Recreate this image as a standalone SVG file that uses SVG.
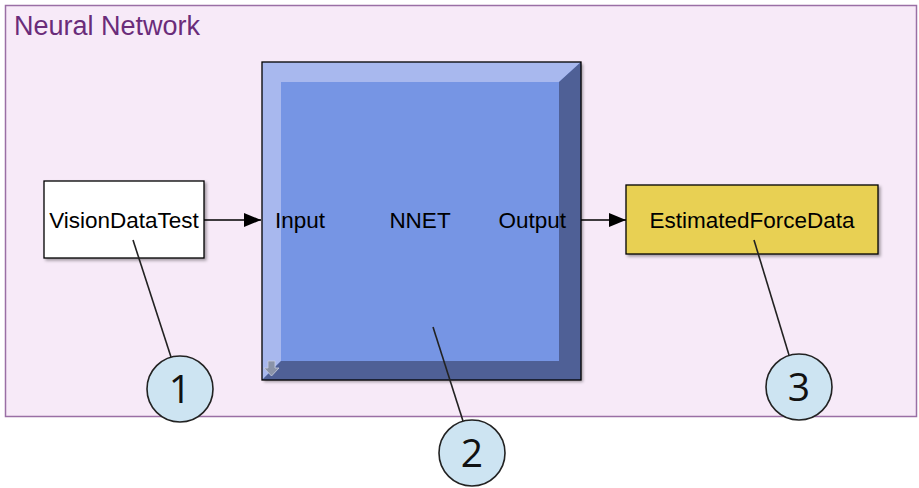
<svg xmlns="http://www.w3.org/2000/svg" width="919" height="488" viewBox="0 0 919 488">
<style>
.lbl{font-family:"Liberation Sans",Arial,sans-serif;font-size:22.5px;fill:#000}
.num{font-family:"Open Sans","Noto Sans",sans-serif;font-size:39px;fill:#111;text-anchor:middle}
.call{fill:#cde4f2;stroke:#222;stroke-width:1.6}
.lead{stroke:#222;stroke-width:1.6;fill:none}
.wire{stroke:#000;stroke-width:1.3;fill:none}
</style>
<defs>
<marker id="ah" viewBox="0 0 17 14" refX="17" refY="7" markerWidth="17" markerHeight="14" markerUnits="userSpaceOnUse" orient="auto">
<path d="M0,0 L17,7 L0,14 Z" fill="#000"/>
</marker>
<filter id="sh" x="-10%" y="-10%" width="130%" height="130%">
<feDropShadow dx="2" dy="2" stdDeviation="1.5" flood-color="#000" flood-opacity="0.35"/>
</filter>
</defs>
<g id="frame">
<rect x="5.5" y="5.5" width="911" height="411" fill="#f7eaf8" stroke="#9a6fa5" stroke-width="1.5"/>
<text x="14" y="35" style="font-family:'Liberation Sans',Arial,sans-serif;font-size:27px;fill:#6a2c7a">Neural Network</text>
</g>
<g id="connectors">
<line class="wire" x1="204" y1="220" x2="261" y2="220" marker-end="url(#ah)"/>
<line class="wire" x1="581" y1="220" x2="626" y2="220" marker-end="url(#ah)"/>
</g>
<g id="VisionDataTest">
<rect x="44" y="181" width="160" height="77" fill="#fff" stroke="#000" stroke-width="1.3" filter="url(#sh)"/>
<text class="lbl" x="124" y="228" text-anchor="middle">VisionDataTest</text>
</g>
<g id="NNET">
<rect x="262" y="62" width="319" height="318" fill="#7695e4" filter="url(#sh)"/>
<polygon points="262,62 581,62 559,82 281,82 281,361 262,380" fill="#a8b8ee"/>
<polygon points="581,62 581,380 262,380 281,361 559,361 559,82" fill="#4f6096"/>
<rect x="281" y="82" width="278" height="279" fill="#7695e4"/>
<rect x="262" y="62" width="319" height="318" fill="none" stroke="#000" stroke-width="1.3"/>
<path d="M268,361 h7 v7 h4 l-7.5,8 l-7.5,-8 h4 z" fill="#8a93a8" stroke="#c8cde0" stroke-width="0.8"/>
<text class="lbl" x="275" y="228">Input</text>
<text class="lbl" x="420" y="228" text-anchor="middle">NNET</text>
<text class="lbl" x="566" y="228" text-anchor="end">Output</text>
</g>
<g id="EstimatedForceData">
<rect x="626" y="185" width="252" height="69" fill="#e8d052" stroke="#000" stroke-width="1.3" filter="url(#sh)"/>
<text class="lbl" x="752" y="228" text-anchor="middle">EstimatedForceData</text>
</g>
<g id="callout1">
<line class="lead" x1="133" y1="240" x2="171" y2="357"/>
<circle class="call" cx="180" cy="389" r="33"/>
<text class="num" x="180" y="403">1</text>
</g>
<g id="callout2">
<line class="lead" x1="433" y1="327" x2="463" y2="421"/>
<circle class="call" cx="472" cy="453" r="33"/>
<text class="num" x="472" y="467">2</text>
</g>
<g id="callout3">
<line class="lead" x1="754" y1="240" x2="789" y2="355"/>
<circle class="call" cx="799" cy="387" r="33"/>
<text class="num" x="799" y="401">3</text>
</g>
</svg>
